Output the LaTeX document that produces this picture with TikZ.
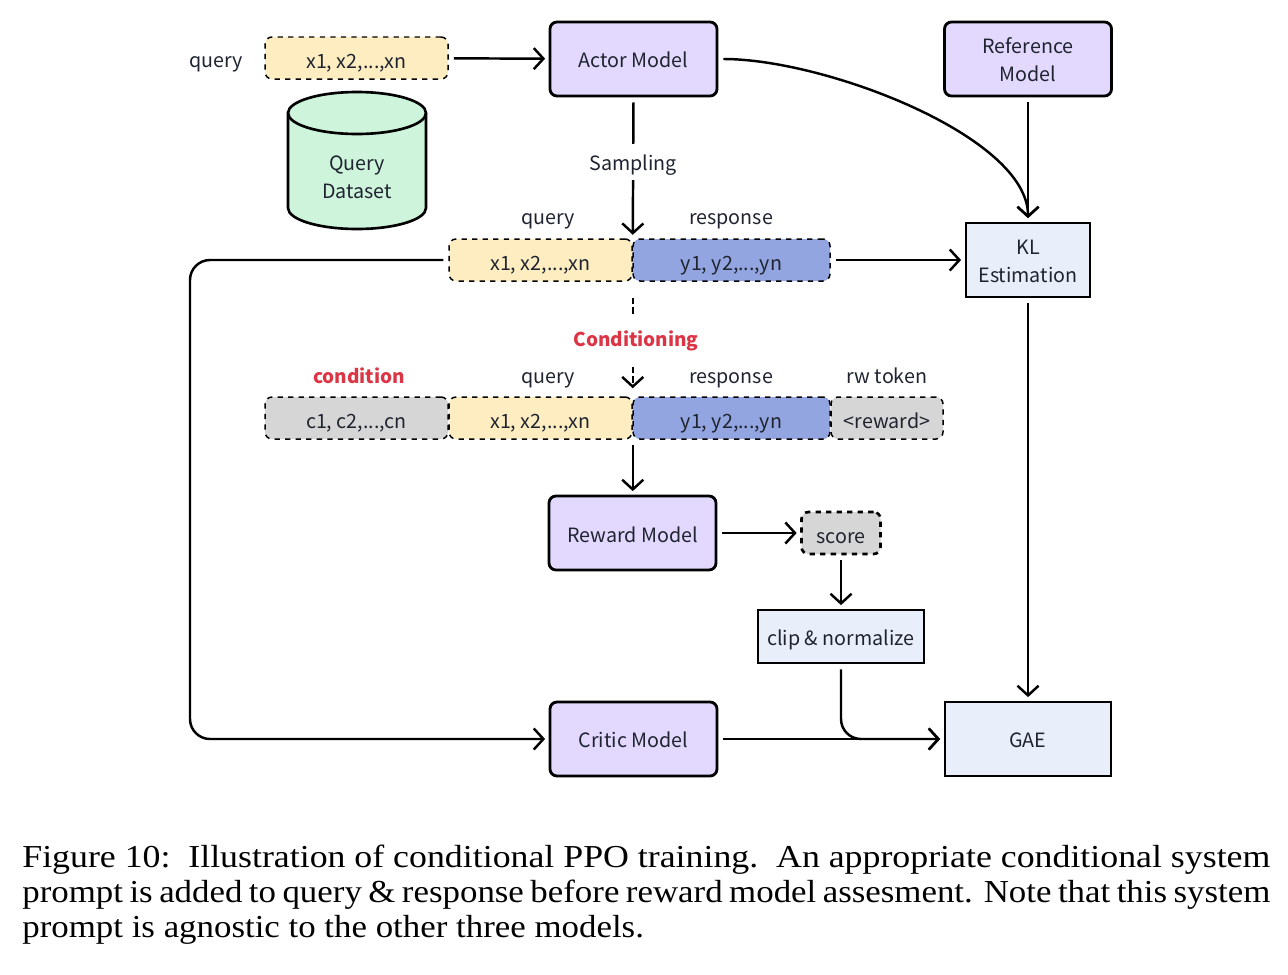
\documentclass[tikz,border=0pt]{standalone}
\usepackage{fontspec}
\setmainfont{Noto Sans CJK SC}
\newfontfamily\capfont[FakeStretch=1.09]{Liberation Serif}
\newfontfamily\capwide[FakeStretch=1.12]{Liberation Serif}
\usetikzlibrary{arrows.meta}
\definecolor{inktext}{HTML}{1F2430}
\definecolor{fillmodel}{HTML}{E3D9FF}
\definecolor{fillquery}{HTML}{FDEDC0}
\definecolor{fillresp}{HTML}{93A5E0}
\definecolor{fillgrey}{HTML}{D6D6D6}
\definecolor{filldata}{HTML}{CFF4DC}
\definecolor{fillcalc}{HTML}{E8EFFB}
\definecolor{condred}{HTML}{DC3545}
\newcommand{\firstline}{\rule{0pt}{10pt}}
\tikzset{
  boxtext/.style={text=inktext,font=\fontsize{11.2}{15.9}\selectfont,align=center,inner sep=0pt},
  oneline/.style={text height=9.4pt,text depth=0pt},
  model/.style={boxtext,draw,line width=1.6pt,fill=fillmodel,rounded corners=.14cm,minimum width=3.34cm,minimum height=1.48cm},
  calc/.style={boxtext,draw,line width=1.6pt,fill=fillcalc,minimum height=1.48cm},
  tokens/.style={boxtext,oneline,text height=12.3pt,draw,dashed,line width=.85pt,rounded corners=.14cm,minimum height=.84cm},
  tag/.style={boxtext,oneline},
  redtag/.style={boxtext,text=condred,font=\fontsize{10.8}{15.9}\selectfont\bfseries},
  flow/.style={-{Straight Barb[length=5.5pt,width=12pt]},line width=1.4pt,shorten <=.1cm,shorten >=.07cm}
}
\begin{document}
\begin{tikzpicture}
            \useasboundingbox (0,0) rectangle (25.76,-19.48);
            \begin{scope}
                \node (actor) [model, oneline] at (12.67, -1.18) {Actor Model};
                \node (reference) [model] at (20.56, -1.18) {\firstline Reference\\Model};
                \node (reward) [model, oneline, text height=10.3pt] at (12.65, -10.66) {Reward Model};
                \node (critic) [model, oneline] at (12.67, -14.78) {Critic Model};
                \node (kl) [calc, minimum width=2.48cm] at (20.56, -5.2) {\firstline KL\\Estimation};
                \node (clip) [calc, oneline, text height=10.3pt, minimum width=3.32cm, minimum height=1.06cm] at (16.82, -12.73) {clip \& normalize};
                \node (gae) [calc, oneline, minimum width=3.32cm] at (20.56, -14.78) {GAE};
            \end{scope}

            \draw [line width=1.5pt, fill=filldata] (5.76, -2.26) -- (5.76, -4.16) arc [start angle=180, end angle=360, x radius=1.38, y radius=.42] -- (8.52, -2.26) arc [start angle=0, end angle=180, x radius=1.38, y radius=.42] -- cycle;
            \draw [line width=1.5pt] (5.76, -2.26) arc [start angle=180, end angle=360, x radius=1.38, y radius=.42];
            \node (dataset) [boxtext] at (7.14, -3.54) {Query\\Dataset};

            \begin{scope}
                \node (query1) [tokens, fill=fillquery, minimum width=3.66cm] at (7.13, -1.16) {x1, x2,...,xn};
                \node (query2) [tokens, fill=fillquery, minimum width=3.66cm] at (10.81, -5.2) {x1, x2,...,xn};
                \node (resp2) [tokens, fill=fillresp, minimum width=3.94cm] at (14.63, -5.2) {y1, y2,...,yn};
                \node (cond3) [tokens, fill=fillgrey, minimum width=3.66cm] at (7.13, -8.36) {c1, c2,...,cn};
                \node (query3) [tokens, fill=fillquery, minimum width=3.66cm] at (10.81, -8.36) {x1, x2,...,xn};
                \node (resp3) [tokens, fill=fillresp, minimum width=3.94cm] at (14.63, -8.36) {y1, y2,...,yn};
                \node (token3) [tokens, fill=fillgrey, minimum width=2.24cm] at (17.74, -8.36) {<reward>};
                \node (score) [tokens, text height=11.4pt, fill=fillgrey, line width=1.5pt, minimum width=1.58cm] at (16.82, -10.66) {score};
            \end{scope}

            \begin{scope}[every node/.style={tag}]
                \node (tagquery1) at (4.32, -1.18) {query};
                \node (tagquery2) at (10.96, -4.32) {query};
                \node (tagresp2) at (14.62, -4.32) {response};
                \node (tagquery3) at (10.96, -7.5) {query};
                \node (tagresp3) at (14.62, -7.5) {response};
                \node (tagtoken3) at (17.74, -7.5) {rw token};
            \end{scope}
            \node (tagcond3) [redtag] at (7.18, -7.52) {condition};
            \node (conditioning) [redtag, inner sep=.3cm] at (12.72, -6.82) {Conditioning};
            \coordinate (turn) at (3.8, -10);

            \begin{scope}
                \path [flow] (query1) edge (actor);
                \path [flow] (actor.south) edge node [tag, pos=.46, fill=white, inner sep=.2cm] {Sampling} (query2.north east);
                \draw [flow] (actor.east) .. controls +(2.14,0) and +(0,1.7) .. (kl.north);
                \path [flow] (reference) edge (kl);
                \path [flow] (resp2) edge (kl);
                \path [flow] (kl) edge (gae);
                \path [flow] (query3.south east) edge (reward.north -| query3.south east);
                \path [flow] (reward) edge (score);
                \path [flow] (score) edge (clip);
                \path [flow] (critic) edge (gae);
                \draw [flow, rounded corners=.4cm] (query2.west) -| (turn) |- (critic.west);
                \draw [flow, rounded corners=.4cm] (clip.south) |- (gae.west);
                \draw [line width=1.4pt, dash pattern=on 3.7pt off 1.7pt, shorten <=.32cm] (query2.south east) -- (query2.south east |- conditioning.north);
                \draw [flow, dash pattern=on 3.7pt off 1.7pt, shorten <=0pt, shorten >=.16cm] (query3.north east |- conditioning.south) -- (query3.north east);
            \end{scope}

            \node (caption) [anchor=north west, align=justify, text width=24.96cm, inner sep=0pt, text=black, font=\fontsize{18.2}{19.84}\capfont] at (.44, -16.9) {{\capwide Figure 10:\ \ Illustration of conditional PPO training.\ \ An appropriate conditional system}\linebreak prompt is added to query \& response before reward model assesment. Note that this system\linebreak prompt is agnostic to the other three models.};
        \end{tikzpicture}
\end{document}
